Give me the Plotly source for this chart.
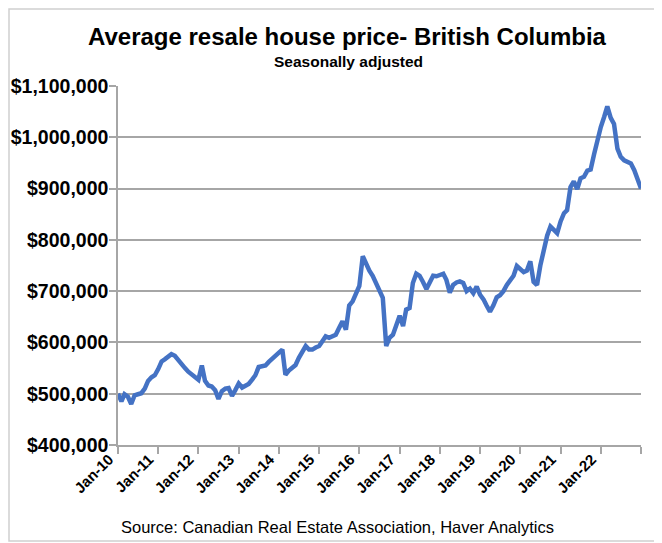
import pandas as pd
import plotly.graph_objects as go

# monthly average resale price, BC, seasonally adjusted (Jan-10 .. Jan-23)
months = pd.date_range("2010-01-01", periods=157, freq="MS")

price_2010 = [500000, 485000, 499000, 494000, 480000, 497000, 499000, 501000, 510000, 525000, 532000, 536000]
price_2011 = [548000, 563000, 567000, 572000, 577000, 574000, 565000, 556000, 550000, 543000, 538000, 532000]
price_2012 = [527000, 555000, 525000, 516000, 514000, 507000, 490000, 505000, 510000, 511000, 496000, 507000]
price_2013 = [520000, 512000, 516000, 519000, 527000, 536000, 552000, 553000, 555000, 562000, 569000, 576000]
price_2014 = [580000, 586000, 537000, 545000, 550000, 556000, 570000, 583000, 593000, 586000, 586000, 590000]
price_2015 = [593000, 603000, 612000, 609000, 611000, 615000, 628000, 641000, 625000, 672000, 680000, 695000]
price_2016 = [710000, 768000, 752000, 740000, 730000, 716000, 700000, 687000, 593000, 609000, 615000, 635000]
price_2017 = [652000, 632000, 664000, 667000, 716000, 734000, 730000, 718000, 704000, 717000, 730000, 729000]
price_2018 = [731000, 734000, 722000, 697000, 712000, 717000, 719000, 716000, 700000, 705000, 696000, 709000]
price_2019 = [693000, 684000, 672000, 660000, 672000, 688000, 692000, 700000, 712000, 720000, 730000, 749000]
price_2020 = [742000, 737000, 740000, 758000, 718000, 712000, 750000, 782000, 808000, 826000, 818000, 813000]
price_2021 = [836000, 852000, 858000, 903000, 914000, 899000, 920000, 923000, 935000, 937000, 967000, 995000]
price_2022 = [1020000, 1040000, 1060000, 1038000, 1026000, 978000, 962000, 955000, 951000, 949000, 936000, 917000]
price_2023 = [900000]

prices = (price_2010 + price_2011 + price_2012 + price_2013 + price_2014 + price_2015 + price_2016
          + price_2017 + price_2018 + price_2019 + price_2020 + price_2021 + price_2022 + price_2023)

tick_years = list(range(2010, 2024))
tick_vals = [pd.Timestamp(f"{y}-01-01") for y in tick_years]
tick_text = [f"Jan-{str(y)[2:]}" for y in tick_years[:-1]] + [""]

# the page body has an 8px margin, so the figure is drawn 8px smaller and
# everything is placed in page pixels minus that offset
OFF = 8
FW, FH = 662 - OFF, 543 - OFF
L, R, T, B = 118 - OFF, 641 - OFF, 86 - OFF, 445 - OFF
W, H = R - L, B - T
def px(x):
    return (x - OFF - L) / W
def py(y):
    return (B - (y - OFF)) / H

fig = go.Figure()
fig.add_trace(go.Scatter(x=months, y=prices, mode="lines",
                         line=dict(color="#4472C4", width=4.5), hoverinfo="x+y"))

fig.update_layout(
    width=FW, height=FH,
    margin=dict(l=L, r=FW - R, t=T, b=FH - B),
    paper_bgcolor="white", plot_bgcolor="white",
    showlegend=False,
    font=dict(family="Liberation Sans", color="black"),
)

fig.update_yaxes(
    automargin=False,
    range=[400000, 1100000], dtick=100000, tickformat="$,.0f",
    showgrid=True, gridcolor="#a6a6a6", gridwidth=1.5,
    showline=True, linecolor="#a6a6a6", linewidth=1.5,
    ticks="outside", ticklen=7, tickcolor="#a6a6a6", tickwidth=1.5,
    ticklabelstandoff=-3,
    tickfont=dict(size=19.5, weight="bold", color="black"),
    zeroline=False,
)
fig.update_xaxes(
    automargin=False,
    type="date", range=[tick_vals[0], tick_vals[-1]],
    tickmode="array", tickvals=tick_vals, ticktext=tick_text, tickangle=-45,
    ticklabelshift=-9, ticklabelstandoff=-9,
    showgrid=False, showline=True, linecolor="#a6a6a6", linewidth=1.5,
    ticks="outside", ticklen=7, tickcolor="#a6a6a6", tickwidth=1.5,
    tickfont=dict(size=15, weight="bold", color="black"),
)

fig.add_annotation(text="<b>Average resale house price- British Columbia</b>",
                   xref="paper", yref="paper", x=px(347), y=py(36),
                   xanchor="center", yanchor="middle", showarrow=False,
                   font=dict(size=24, color="black"))
fig.add_annotation(text="<b>Seasonally adjusted</b>",
                   xref="paper", yref="paper", x=px(348), y=py(62),
                   xanchor="center", yanchor="middle", showarrow=False,
                   font=dict(size=15.5, color="black"))
fig.add_annotation(text="Source: Canadian Real Estate Association, Haver Analytics",
                   xref="paper", yref="paper", x=px(119), y=py(527),
                   xanchor="left", yanchor="middle", showarrow=False,
                   font=dict(size=16.5, color="black"))

# outer chart border (as close to the page edge as the body margin allows)
fig.add_shape(type="rect", xref="paper", yref="paper",
              x0=px(OFF + 1), x1=px(659), y0=py(541), y1=py(OFF + 1),
              line=dict(color="#d0d0d0", width=1.5), layer="below")

fig.write_html("out.html")
